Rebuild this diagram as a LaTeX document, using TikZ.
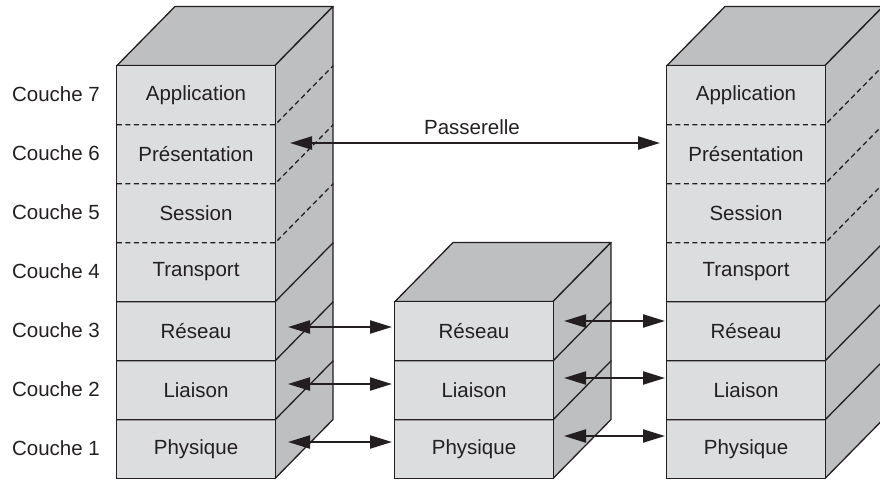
\documentclass[tikz,border=0pt]{standalone}
\usepackage{fontspec}
\setmainfont{Liberation Sans}
\usetikzlibrary{arrows.meta}
\definecolor{frontc}{HTML}{DCDDDF}
\definecolor{sidec}{HTML}{BEBFC1}
\definecolor{inkc}{HTML}{231F20}
\begin{document}
\begin{tikzpicture}[x=1pt,y=-1pt,
  layer/.style={fill=frontc, minimum width=158pt, minimum height=59pt, inner sep=0pt,
    text=inkc, font=\fontsize{20.5}{24}\selectfont},
  couche/.style={text=inkc, inner sep=0pt, font=\fontsize{20.5}{24}\selectfont},
  face/.style={fill=sidec, draw=inkc, line width=1.3pt, line join=round},
  outline/.style={draw=inkc, line width=1.3pt},
  dsep/.style={outline, dash pattern=on 5pt off 3.5pt},
  link/.style={draw=inkc, line width=2.2pt,
    {Triangle[length=22pt,width=13pt]}-{Triangle[length=22pt,width=13pt]}}
]
\useasboundingbox (0,0) rectangle (880,479);
\clip (0,0) rectangle (880,479);

% ---------- left stack ----------
\path[face] (117,65.5) -- (175,6.5) -- (333,6.5) -- (275,65.5) -- cycle;
\path[face] (275,65.5) -- (333,6.5) -- (333,419.5) -- (275,478.5) -- cycle;
\node[layer] (A7) at (196,95)  {Application};
\node[layer] (A6) at (196,154) {Présentation};
\node[layer] (A5) at (196,213) {Session};
\node[layer] (A4) at (196,272) {Transport};
\node[layer] (A3) at (196,331) {Réseau};
\node[layer] (A2) at (196,390) {Liaison};
\node[layer] (A1) at (196,449) {Physique};
\draw[outline] (A7.north west) rectangle (A1.south east);
\foreach \n in {7,6,5}{\draw[dsep] (A\n.south west) -- (A\n.south east) -- ++(58,-59);}
\foreach \n in {4,3,2}{\draw[outline] (A\n.south west) -- (A\n.south east) -- ++(58,-59);}

% ---------- middle stack ----------
\path[face] (395,301.5) -- (453,242.5) -- (611,242.5) -- (553,301.5) -- cycle;
\path[face] (553,301.5) -- (611,242.5) -- (611,419.5) -- (553,478.5) -- cycle;
\node[layer] (B3) at (474,331) {Réseau};
\node[layer] (B2) at (474,390) {Liaison};
\node[layer] (B1) at (474,449) {Physique};
\draw[outline] (B3.north west) rectangle (B1.south east);
\foreach \n in {3,2}{\draw[outline] (B\n.south west) -- (B\n.south east) -- ++(58,-59);}

% ---------- right stack ----------
\path[face] (667,65.5) -- (725,6.5) -- (883,6.5) -- (825,65.5) -- cycle;
\path[face] (825,65.5) -- (883,6.5) -- (883,419.5) -- (825,478.5) -- cycle;
\node[layer] (C7) at (746,95)  {Application};
\node[layer] (C6) at (746,154) {Présentation};
\node[layer] (C5) at (746,213) {Session};
\node[layer] (C4) at (746,272) {Transport};
\node[layer] (C3) at (746,331) {Réseau};
\node[layer] (C2) at (746,390) {Liaison};
\node[layer] (C1) at (746,449) {Physique};
\draw[outline] (C7.north west) rectangle (C1.south east);
\foreach \n in {7,6,5}{\draw[dsep] (C\n.south west) -- (C\n.south east) -- ++(58,-59);}
\foreach \n in {4,3,2}{\draw[outline] (C\n.south west) -- (C\n.south east) -- ++(58,-59);}

% ---------- layer labels ----------
\node[couche] (K7) at (56,94)  {Couche 7};
\node[couche] (K6) at (56,153) {Couche 6};
\node[couche] (K5) at (56,212) {Couche 5};
\node[couche] (K4) at (56,271) {Couche 4};
\node[couche] (K3) at (56,330) {Couche 3};
\node[couche] (K2) at (56,389) {Couche 2};
\node[couche] (K1) at (56,448) {Couche 1};

% ---------- gateway ----------
\coordinate (pg) at (290,143);
\coordinate (pd) at (660,143);
\draw[link] (pg) -- (pd);
\node[couche] (pas) at (472,127) {Passerelle};

% ---------- lower links ----------
\coordinate (a3) at (288,327); \coordinate (b3l) at (392,327);
\coordinate (a2) at (288,384); \coordinate (b2l) at (392,384);
\coordinate (a1) at (288,442); \coordinate (b1l) at (392,442);
\coordinate (b3r) at (564,321); \coordinate (c3) at (665,321);
\coordinate (b2r) at (564,378); \coordinate (c2) at (665,378);
\coordinate (b1r) at (564,436); \coordinate (c1) at (665,436);
\draw[link] (a3) -- (b3l);
\draw[link] (a2) -- (b2l);
\draw[link] (a1) -- (b1l);
\draw[link] (b3r) -- (c3);
\draw[link] (b2r) -- (c2);
\draw[link] (b1r) -- (c1);
\end{tikzpicture}
\end{document}
